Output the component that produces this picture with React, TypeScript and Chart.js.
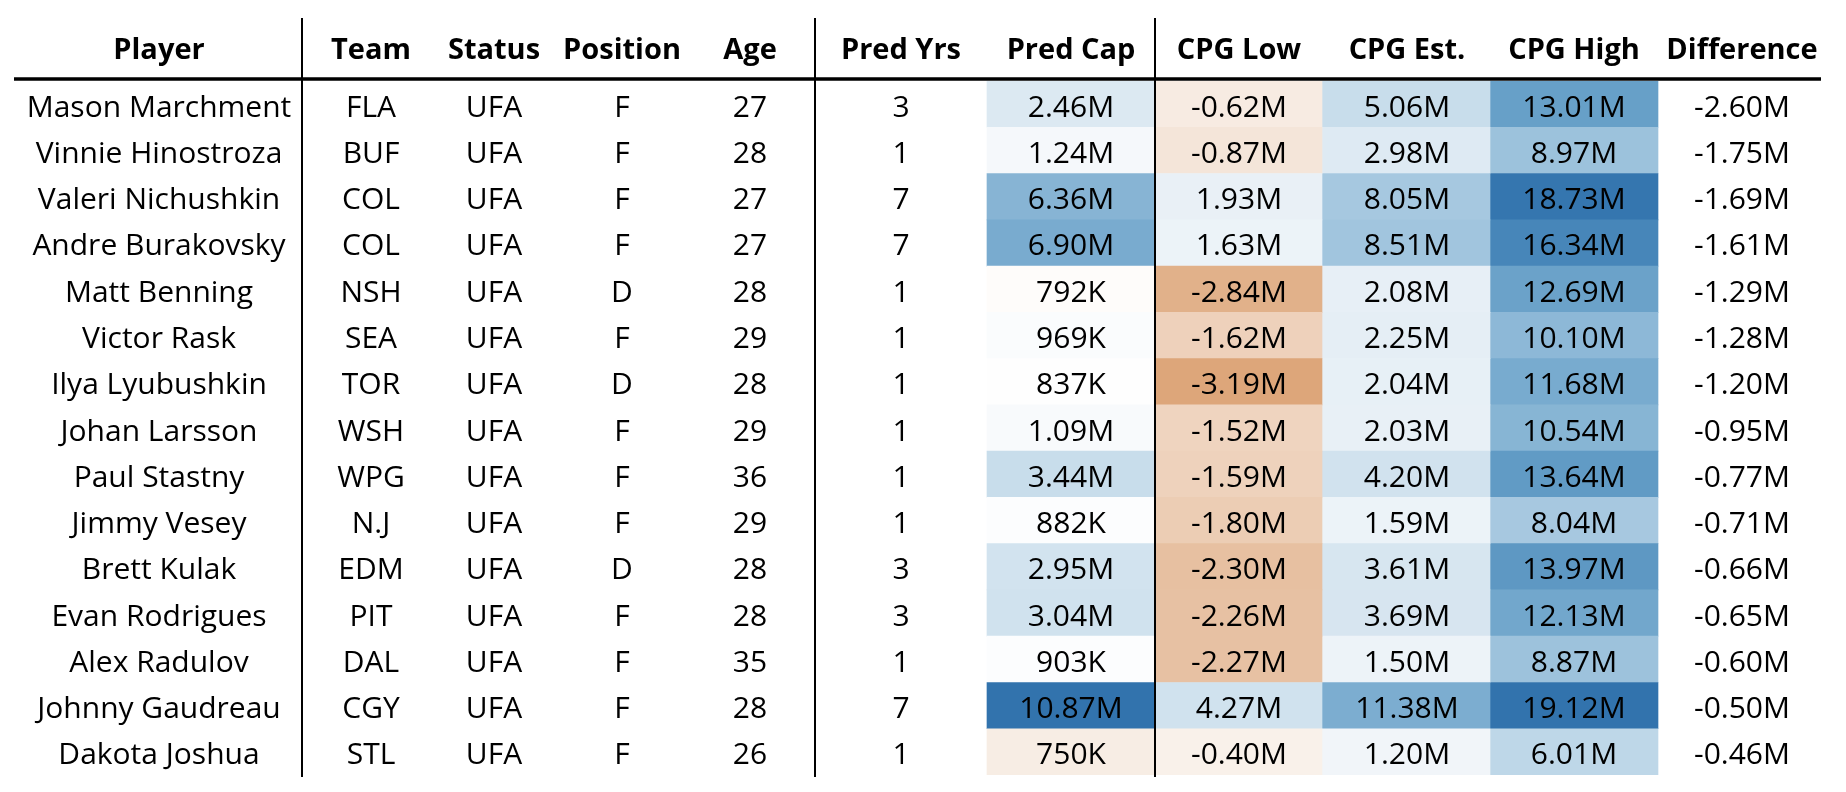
import { useEffect, useRef } from 'react';
import { Chart, registerables } from 'chart.js';

Chart.register(...registerables);

// ---------- data ----------
const players = [
  'Mason Marchment', 'Vinnie Hinostroza', 'Valeri Nichushkin', 'Andre Burakovsky', 'Matt Benning',
  'Victor Rask', 'Ilya Lyubushkin', 'Johan Larsson', 'Paul Stastny', 'Jimmy Vesey',
  'Brett Kulak', 'Evan Rodrigues', 'Alex Radulov', 'Johnny Gaudreau', 'Dakota Joshua',
];
const teams = ['FLA', 'BUF', 'COL', 'COL', 'NSH', 'SEA', 'TOR', 'WSH', 'WPG', 'N.J', 'EDM', 'PIT', 'DAL', 'CGY', 'STL'];
const statuses = ['UFA', 'UFA', 'UFA', 'UFA', 'UFA', 'UFA', 'UFA', 'UFA', 'UFA', 'UFA', 'UFA', 'UFA', 'UFA', 'UFA', 'UFA'];
const positions = ['F', 'F', 'F', 'F', 'D', 'F', 'D', 'F', 'F', 'F', 'D', 'F', 'F', 'F', 'F'];
const ages = [27, 28, 27, 27, 28, 29, 28, 29, 36, 29, 28, 28, 35, 28, 26];
const predYrs = [3, 1, 7, 7, 1, 1, 1, 1, 1, 1, 3, 3, 1, 7, 1];
// values in millions
const predCap = [2.46, 1.24, 6.36, 6.90, 0.792, 0.969, 0.837, 1.09, 3.44, 0.882, 2.95, 3.04, 0.903, 10.87, 0.75];
const cpgLow = [-0.62, -0.87, 1.93, 1.63, -2.84, -1.62, -3.19, -1.52, -1.59, -1.80, -2.30, -2.26, -2.27, 4.27, -0.40];
const cpgEst = [5.06, 2.98, 8.05, 8.51, 2.08, 2.25, 2.04, 2.03, 4.20, 1.59, 3.61, 3.69, 1.50, 11.38, 1.20];
const cpgHigh = [13.01, 8.97, 18.73, 16.34, 12.69, 10.10, 11.68, 10.54, 13.64, 8.04, 13.97, 12.13, 8.87, 19.12, 6.01];
const difference = [-2.60, -1.75, -1.69, -1.61, -1.29, -1.28, -1.20, -0.95, -0.77, -0.71, -0.66, -0.65, -0.60, -0.50, -0.46];
const headers = ['Player', 'Team', 'Status', 'Position', 'Age', 'Pred Yrs', 'Pred Cap', 'CPG Low', 'CPG Est.', 'CPG High', 'Difference'];

// ---------- layout (x scale units = page px) ----------
const W = 1846;
const H = 792;
const colCenters = [159, 371, 494, 622, 750, 901, 1071, 1239, 1407, 1574, 1742];
const heatEdges = [[987, 1155], [1155, 1322], [1322, 1490], [1490, 1658]];
const vLines = [302, 815, 1155];
const FONT = '"Open Sans", "Noto Sans", sans-serif';

// ---------- colour map ----------
const blueStops: [number, number[]][] = [
  [0, [255, 255, 255]], [0.1, [240, 245, 249]], [0.25, [214, 229, 240]], [0.4, [185, 212, 230]],
  [0.55, [150, 190, 218]], [0.7, [108, 163, 202]], [0.85, [75, 138, 187]], [1, [50, 115, 173]],
];
const orangeStops: [number, number[]][] = [
  [0, [255, 255, 255]], [0.1, [250, 243, 237]], [0.25, [245, 231, 220]], [0.5, [238, 210, 188]],
  [0.75, [230, 190, 158]], [1, [221, 166, 122]],
];
function ramp(stops: [number, number[]][], t: number) {
  t = Math.max(0, Math.min(1, t));
  for (let i = 1; i < stops.length; i++) {
    if (t <= stops[i][0]) {
      const [t0, c0] = stops[i - 1];
      const [t1, c1] = stops[i];
      const f = (t - t0) / (t1 - t0);
      const c = c0.map((v, k) => Math.round(v + (c1[k] - v) * f));
      return `rgb(${c[0]},${c[1]},${c[2]})`;
    }
  }
  const c = stops[stops.length - 1][1];
  return `rgb(${c[0]},${c[1]},${c[2]})`;
}
type Norm = { center: number; pos: number; neg: number };
function colorFor(v: number, n: Norm) {
  if (v >= n.center) return ramp(blueStops, Math.pow((v - n.center) / n.pos, 0.85));
  return ramp(orangeStops, (n.center - v) / n.neg);
}
const capNorm: Norm = { center: 0.8, pos: 10.07, neg: 0.28 };
const cpgNorm: Norm = { center: 0, pos: 19.12, neg: 3.19 };

const fmtM = (v: number) => `${v.toFixed(2)}M`;
const fmtCap = (v: number) => (v < 1 ? `${Math.round(v * 1000)}K` : fmtM(v));

const heatSeries = [
  { values: predCap, norm: capNorm },
  { values: cpgLow, norm: cpgNorm },
  { values: cpgEst, norm: cpgNorm },
  { values: cpgHigh, norm: cpgNorm },
];

const textColumns: string[][] = [
  players, teams, statuses, positions, ages.map(String), predYrs.map(String),
  predCap.map(fmtCap), cpgLow.map(fmtM), cpgEst.map(fmtM), cpgHigh.map(fmtM), difference.map(fmtM),
];

const tablePlugin = {
  id: 'tableText',
  afterDatasetsDraw(chart: any) {
    const { ctx, chartArea } = chart;
    const x = chart.scales.x;
    const y = chart.scales.y;
    ctx.save();
    ctx.strokeStyle = '#000';
    // vertical separators
    ctx.lineWidth = 2;
    for (const vx of vLines) {
      const px = Math.round(x.getPixelForValue(vx));
      ctx.beginPath();
      ctx.moveTo(px, chartArea.top - 63);
      ctx.lineTo(px, chartArea.bottom + 2);
      ctx.stroke();
    }
    // header rule
    ctx.lineWidth = 3.5;
    ctx.beginPath();
    ctx.moveTo(x.getPixelForValue(14), chartArea.top - 2);
    ctx.lineTo(x.getPixelForValue(1821), chartArea.top - 2);
    ctx.stroke();
    // headers
    ctx.fillStyle = '#000';
    ctx.textAlign = 'center';
    ctx.textBaseline = 'middle';
    ctx.font = `bold 29px ${FONT}`;
    headers.forEach((h, j) => ctx.fillText(h, x.getPixelForValue(colCenters[j]), chartArea.top - 30));
    // body
    ctx.font = `30px ${FONT}`;
    ctx.fillStyle = '#000';
    textColumns.forEach((col, j) => {
      col.forEach((t, i) => ctx.fillText(t, x.getPixelForValue(colCenters[j]), y.getPixelForValue(i) + 4));
    });
    ctx.restore();
  },
};

export default function App() {
  const ref = useRef<HTMLCanvasElement>(null);
  useEffect(() => {
    if (!ref.current) return;
    const chart = new Chart(ref.current, {
      type: 'bar',
      data: {
        labels: players,
        datasets: heatSeries.map((s, k) => ({
          label: headers[6 + k],
          data: s.values.map(() => heatEdges[k]) as any,
          backgroundColor: s.values.map((v) => colorFor(v, s.norm)),
          borderWidth: 0,
          barPercentage: 1,
          categoryPercentage: 1,
          grouped: false,
        })),
      },
      options: {
        indexAxis: 'y',
        animation: false,
        responsive: false,
        devicePixelRatio: 1,
        layout: { padding: { top: 81, bottom: 17, left: 0, right: 0 } },
        plugins: { legend: { display: false }, tooltip: { enabled: false } },
        scales: {
          x: { type: 'linear', min: 0, max: W, display: false },
          y: { type: 'category', display: false, offset: true },
        },
      },
      plugins: [tablePlugin],
    });
    return () => chart.destroy();
  }, []);
  return (
    <div style={{ position: 'fixed', left: 0, top: 0, width: W, height: H, background: '#fff' }}>
      <canvas ref={ref} width={W} height={H} style={{ width: W, height: H, display: 'block' }} />
    </div>
  );
}
